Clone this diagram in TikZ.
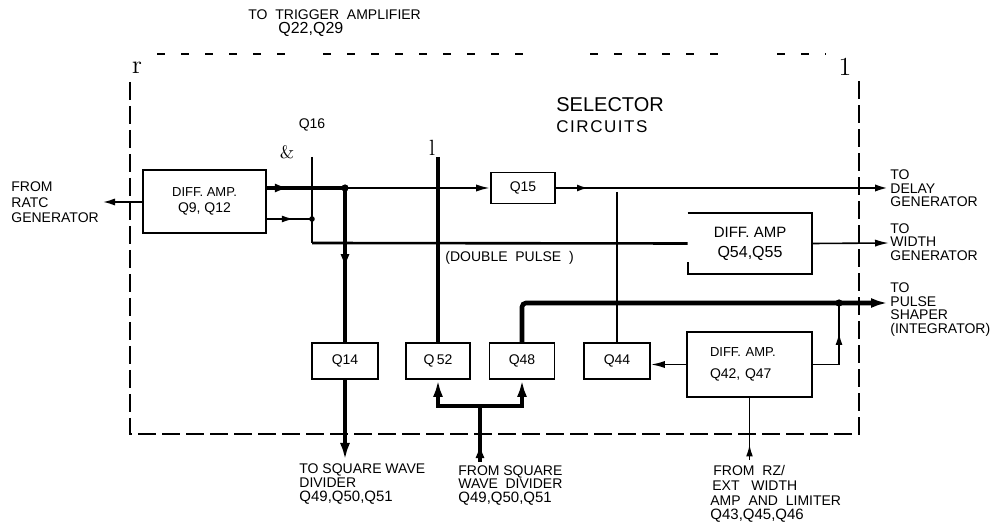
\documentclass[tikz,border=0pt]{standalone}
\usepackage{fontspec}
\newfontfamily\lib{Liberation Sans}
\newfontfamily\libsp[LetterSpace=9]{Liberation Sans}
\usetikzlibrary{arrows.meta,decorations.markings}
\begin{document}
\begin{tikzpicture}[x=0.5pt,y=-0.5pt,
  lbl/.style={font=\lib\fontsize{7}{6.8}\selectfont, inner sep=0pt, align=left},
  box/.style={draw, line width=0.9pt, inner sep=0pt, minimum height=18pt, font=\lib\fontsize{7}{8}\selectfont, align=center},
  thinl/.style={line width=0.8pt},
  medl/.style={line width=1.3pt},
  thickl/.style={line width=2.3pt},
  endtip/.style={-{Latex[length=7pt,width=3.6pt]}},
  bigtip/.style={-{Latex[length=8.5pt,width=5pt]}},
  midtip/.style={postaction=decorate, decoration={markings, mark=at position #1 with {\arrow{Latex[length=6pt,width=3.4pt]}}}},
  bigmid/.style={postaction=decorate, decoration={markings, mark=at position #1 with {\arrow{Latex[length=7pt,width=4.6pt]}}}},
  framel/.style={line width=0.8pt, dash pattern=on 9pt off 3pt},
  topl/.style={line width=0.8pt, dash pattern=on 4pt off 8pt},
  dot/.style={circle, fill, inner sep=0pt, minimum size=#1}
]
\fill[white] (0,0) rectangle (995,528);
\useasboundingbox (0,0) rectangle (995,528);

% frame
\draw[framel] (130,82) -- (130,434) -- (859,434) -- (859,77);
\draw[topl] (157,54) -- (286,54);
\draw[topl] (323,54) -- (525,54);
\draw[topl] (590,54) -- (718,54);
\draw[topl] (777,54) -- (826,54);

% serif marks
\node[font=\fontsize{13}{14}\selectfont, inner sep=0pt] (rr) at (137,68) {r};
\node[font=\fontsize{13}{14}\selectfont, inner sep=0pt] (one) at (845,67) {1};
\node[font=\fontsize{9}{10}\selectfont, inner sep=0pt] (amp) at (287,152) {\&};
\node[font=\fontsize{11}{12}\selectfont, inner sep=0pt] (ell) at (432,148) {l};

% titles
\node[font=\lib\fontsize{10}{12}\selectfont, anchor=west, inner sep=0pt] (sel) at (556,105) {SELECTOR};
\node[font=\libsp\fontsize{8.5}{10}\selectfont, anchor=west, inner sep=0pt] (circ) at (556,127) {CIRCUITS};
\node[lbl] (q16) at (312,125) {Q16};
\node[lbl, anchor=north west, font=\lib\fontsize{7}{7}\selectfont] (trig) at (248,9) {TO~~TRIGGER~~AMPLIFIER\\\hspace*{15pt}{\fontsize{8}{8}\selectfont Q22,Q29}};

% boxes
\node[box, minimum width=61.5pt, minimum height=31.5pt] (dA) at (204.5,201.5) {{\fontsize{6.5}{8}\selectfont DIFF. AMP.}\\Q9, Q12};
\node[box, minimum width=32pt, minimum height=15.5pt] (q15) at (523,188) {Q15};
\node[box, minimum width=33pt] (q14) at (345,361) {Q14};
\node[box, minimum width=32pt] (q52) at (438,361) {Q\,52};
\node[box, minimum width=32.5pt] (q48) at (522,361) {Q48};
\node[box, minimum width=33pt] (q44) at (617,361) {Q44};
\node[box, align=left, text width=39.5pt, inner xsep=11.5pt, minimum height=32.5pt] (dC) at (749.5,364.5) {{\fontsize{6.5}{8}\selectfont DIFF. AMP.}\\[3pt]Q42, Q47};
\node[font=\lib\fontsize{7.5}{10}\selectfont, align=center, inner sep=0pt, minimum width=62pt, minimum height=30.5pt] (dB) at (750,243.5) {DIFF. AMP\\{\fontsize{8}{10}\selectfont Q54,Q55}};
\draw[line width=1pt] (dB.north west) -- (dB.north east) -- (dB.south east) -- (dB.south west) -- ++(0,-12);

% labels outside
\node[lbl, anchor=west, font=\lib\fontsize{7}{7.7}\selectfont] (rate) at (11,202.5) {FROM\\RATC\\GENERATOR};
\node[lbl, anchor=west] (delay) at (890,188.5) {TO\\DELAY\\GENERATOR};
\node[lbl, anchor=west] (width) at (890,242) {TO\\WIDTH\\GENERATOR};
\node[lbl, anchor=west] (pulse) at (890,309.5) {TO\\PULSE\\SHAPER\\(INTEGRATOR)};
\node[lbl, anchor=west] (dbl) at (445,258) {(DOUBLE~~PULSE~~)};
\node[lbl, anchor=north west, font=\lib\fontsize{7}{7.2}\selectfont] (sqout) at (299,463) {TO SQUARE WAVE\\DIVIDER\\{\fontsize{7.5}{7.5}\selectfont Q49,Q50,Q51}};
\node[lbl, anchor=north west, font=\lib\fontsize{7}{6.8}\selectfont] (sqin) at (458,465) {\hbox to 52pt{FROM\hfill SQUARE}\\\hbox to 52pt{WAVE\hfill DIVIDER}\\{\fontsize{7.5}{8}\selectfont Q49,Q50,Q51}};
\node[lbl, anchor=north west, font=\lib\fontsize{7}{7.4}\selectfont] (rz) at (710,465) {\hspace*{1.5pt}FROM~~RZ/\\\hspace*{1pt}EXT~~~WIDTH\\AMP~~AND~~LIMITER\\{\fontsize{7.5}{8.5}\selectfont Q43,Q45,Q46}};

% coordinates
\coordinate (inL) at (103,202);
\coordinate (j1) at (345,188);
\coordinate (j2) at (312,219);
\coordinate (q16t) at (312,157);
\coordinate (q16b) at (312,243);
\coordinate (l52) at (438,157);
\coordinate (dOut) at (889,188);
\coordinate (wOut) at (889,243);
\coordinate (q44t) at (617,192);
\coordinate (pj) at (839,303);
\coordinate (pOut) at (888,303);
\coordinate (sqb) at (345,460);
\coordinate (bus) at (480,406);
\coordinate (busb) at (480,462);
\coordinate (rzb) at (749.5,460);

% connectors
\draw[thinl, {Latex[length=6pt,width=3.6pt]}-] (inL) -- (inL -| dA.west);
\draw[thickl, bigmid=0.28] (dA.east |- j1) -- (j1);
\draw[line width=1pt, endtip] (j1) -- (q15.west);
\draw[thickl, bigmid=0.52] (j1) -- (q14.north);
\draw[thickl, bigtip] (q14.south) -- (sqb);
\draw[thinl, midtip=0.6] (dA.east |- j2) -- (j2);
\draw[thinl] (q16t) -- (q16b);
\draw[medl] (q16b) -- (dB.west);
\draw[thickl] (l52) -- (q52.north);
\draw[medl, endtip, midtip=0.1] (q15.east) -- (dOut);
\draw[thinl, endtip] (dB.east) -- (wOut);
\draw[line width=1pt] (q44t) -- (q44.north);
\draw[thickl, bigtip, rounded corners=2pt] (q48.north) -- (q48.north |- pj) -- (pOut);
\draw[thinl, midtip=0.66] (dC.east) -- (dC.east -| pj) -- (pj);
\draw[thinl, endtip] (dC.west) -- (dC.west -| q44.east);
\draw[thinl, midtip=0.25] (rzb) -- (dC.south);
\draw[thickl, bigmid=0.32] (busb) -- (bus);
\draw[thickl, bigtip] (bus) -| (q52.south);
\draw[thickl, bigtip] (bus) -| (q48.south);

% junction dots
\node[dot=3.6pt] (d1) at (j1) {};
\node[dot=2.8pt] (d2) at (j2) {};
\node[dot=3.6pt] (d3) at (pj) {};
\end{tikzpicture}
\end{document}
